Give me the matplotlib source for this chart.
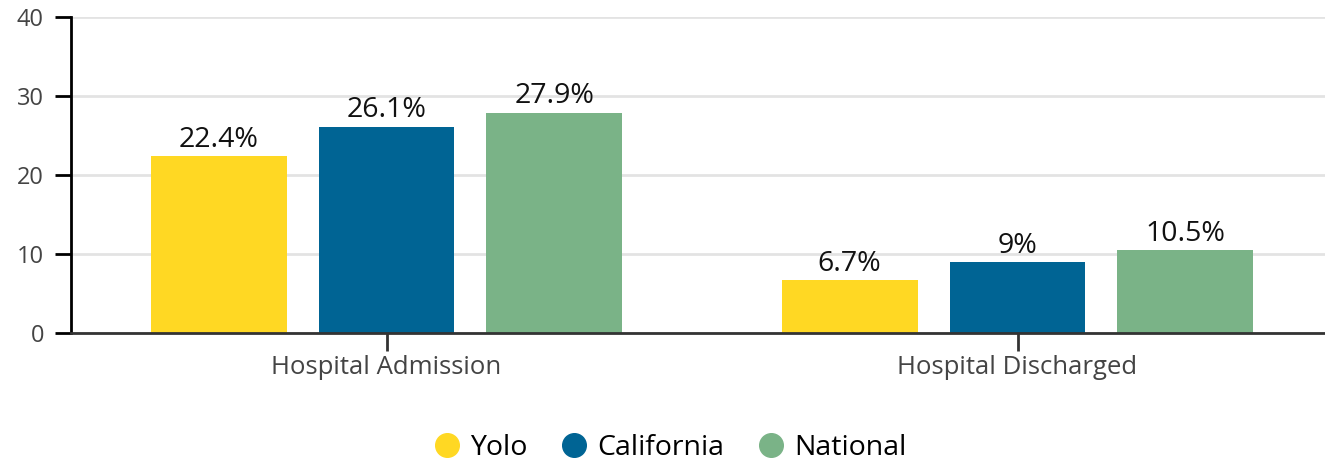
import matplotlib.pyplot as plt
from matplotlib.lines import Line2D
import numpy as np

plt.rcParams['font.family'] = ['Open Sans', 'DejaVu Sans']

categories = ['Hospital Admission', 'Hospital Discharged']
series = ['Yolo', 'California', 'National']
values = {
    'Yolo': [22.4, 6.7],
    'California': [26.1, 9],
    'National': [27.9, 10.5],
}
colors = {'Yolo': '#FFD823', 'California': '#006494', 'National': '#7AB387'}
yticks = [0, 10, 20, 30, 40]

fig = plt.figure(figsize=(13.25, 4.61), dpi=100)
ax = fig.add_axes([71 / 1325, 128 / 461, 1262 / 1325, 316 / 461])

x = np.arange(len(categories))
width = 0.2155
step = 0.266
for i, name in enumerate(series):
    pos = x + (i - 1) * step
    bars = ax.bar(pos, values[name], width, color=colors[name], zorder=2)
    for b, v in zip(bars, values[name]):
        ax.text(b.get_x() + b.get_width() / 2, v + 0.3, f'{v:g}%',
                ha='center', va='bottom', fontsize=20.5, color='#111111')

ax.set_xlim(-0.5, 1.5)
ax.set_ylim(0, 40)
ax.set_yticks(yticks)
ax.set_xticks(x)
ax.set_xticklabels(categories)
ax.yaxis.grid(True, color='#e3e3e3', linewidth=2)
ax.set_axisbelow(True)

for s in ['top', 'right']:
    ax.spines[s].set_visible(False)
ax.spines['left'].set_color('black')
ax.spines['left'].set_linewidth(2)
ax.spines['bottom'].set_color('#333333')
ax.spines['bottom'].set_linewidth(2)
ax.spines['bottom'].set_zorder(3)

ax.tick_params(axis='y', length=11.5, width=2, color='black', labelsize=17,
               labelcolor='#444444', pad=8)
ax.tick_params(axis='x', length=13, width=2, color='#333333', labelsize=18.5,
               labelcolor='#444444', pad=3)

handles = [Line2D([], [], marker='o', linestyle='', markersize=17,
                  markerfacecolor=colors[n], markeredgecolor=colors[n])
           for n in series]
fig.legend(handles, series, loc='center', bbox_to_anchor=(0.506, 0.028),
           ncol=3, frameon=False, fontsize=20.5, handlelength=0.9,
           handletextpad=0.35, columnspacing=1.2)

fig.savefig('out.png', dpi=100)
